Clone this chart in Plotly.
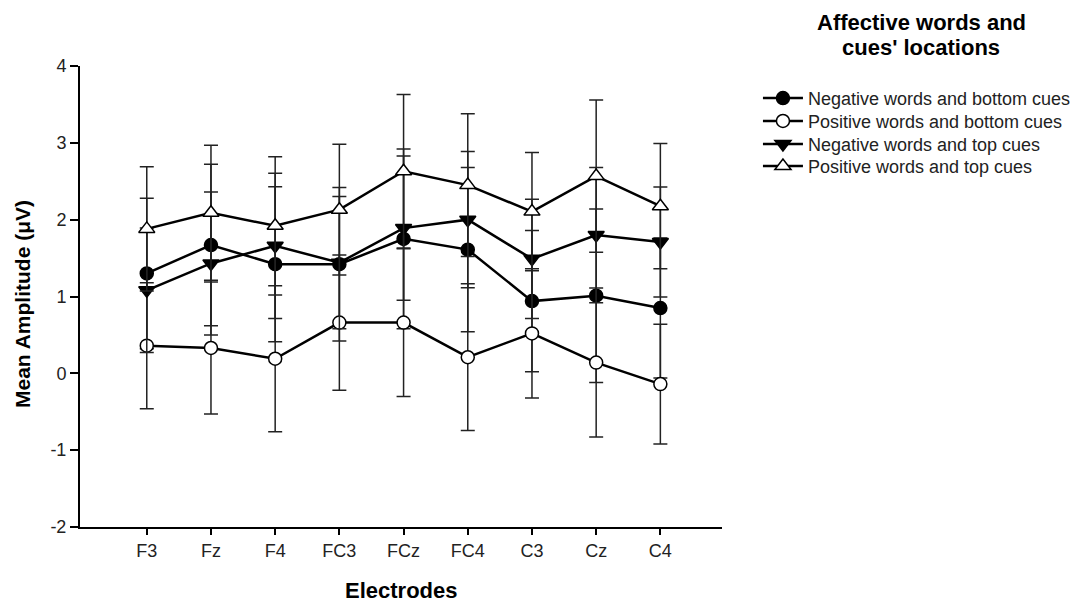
import plotly.graph_objects as go

electrodes = ["F3", "Fz", "F4", "FC3", "FCz", "FC4", "C3", "Cz", "C4"]

neg_bottom = [1.30, 1.67, 1.42, 1.42, 1.75, 1.61, 0.94, 1.01, 0.85]
neg_bottom_err = [0.98, 1.05, 1.01, 1.00, 1.17, 1.07, 0.92, 1.13, 0.91]

pos_bottom = [0.36, 0.33, 0.19, 0.66, 0.66, 0.21, 0.52, 0.14, -0.14]
pos_bottom_err = [0.82, 0.86, 0.95, 0.88, 0.96, 0.955, 0.84, 0.97, 0.78]

neg_top = [1.08, 1.43, 1.66, 1.44, 1.89, 2.00, 1.49, 1.80, 1.71]
neg_top_err = [0.81, 0.93, 0.945, 0.86, 0.94, 0.886, 0.777, 0.88, 0.716]

pos_top = [1.88, 2.09, 1.92, 2.13, 2.63, 2.45, 2.105, 2.567, 2.175]
pos_top_err = [0.81, 0.88, 0.90, 0.85, 1.00, 0.93, 0.77, 0.99, 0.815]

y_tick_values = [-2, -1, 0, 1, 2, 3, 4]
y_tick_labels = ["-2", "-1", "0", "1", "2", "3", "4"]

series = [
    ("Negative words and bottom cues", neg_bottom, neg_bottom_err, "circle", "black", 13),
    ("Positive words and bottom cues", pos_bottom, pos_bottom_err, "circle", "white", 13),
    ("Negative words and top cues", neg_top, neg_top_err, "triangle-down", "black", 14),
    ("Positive words and top cues", pos_top, pos_top_err, "triangle-up", "white", 14),
]

FONT = "Liberation Sans, Arial, sans-serif"
legend_names = ["legend", "legend2", "legend3", "legend4"]
legend_rows_y = [0.970, 0.9202, 0.8703, 0.8226]

fig = go.Figure()
for (name, vals, errs, sym, fill, sz), lg in zip(series, legend_names):
    fig.add_trace(go.Scatter(
        x=electrodes, y=vals, name=name, mode="lines+markers", legend=lg,
        line=dict(color="black", width=2.5),
        marker=dict(symbol=sym, size=sz, color=fill, line=dict(color="black", width=1.5)),
        error_y=dict(type="data", array=errs, visible=True, color="#222222",
                     thickness=1.5, width=7),
    ))

legend_layout = {}
for lg, ly in zip(legend_names, legend_rows_y):
    legend_layout[lg] = dict(x=1.056, xanchor="left", y=ly, yanchor="top",
                             font=dict(family=FONT, size=18, color="#222222"),
                             itemwidth=40, bgcolor="rgba(0,0,0,0)")

fig.update_layout(
    width=1070, height=595,
    paper_bgcolor="white", plot_bgcolor="white",
    margin=dict(l=72, r=356, t=58, b=76, autoexpand=False),
    font=dict(family=FONT, size=18, color="#222222"),
    showlegend=True,
    **legend_layout,
    xaxis=dict(type="category", range=[-1.04, 8.96], showline=True, linecolor="black",
               linewidth=2, ticks="outside", ticklen=6, tickwidth=1.5, tickcolor="black",
               showgrid=False, zeroline=False, tickfont=dict(size=18)),
    yaxis=dict(range=[-2, 4], tickmode="array", tickvals=y_tick_values, ticktext=y_tick_labels,
               showline=True, linecolor="black", linewidth=2,
               ticks="outside", ticklen=8, tickwidth=1.5, tickcolor="black",
               showgrid=False, zeroline=False, tickfont=dict(size=18)),
    annotations=[
        dict(text="<b>Mean Amplitude (\u03bcV)</b>", xref="paper", yref="paper",
             x=-0.0903, y=0.4837, textangle=-90, showarrow=False,
             font=dict(family=FONT, size=21, color="black"),
             xanchor="center", yanchor="middle"),
        dict(text="<b>Electrodes</b>", xref="paper", yref="paper",
             x=0.5, y=-0.1695, showarrow=False,
             font=dict(family=FONT, size=22, color="black"),
             xanchor="center", yanchor="bottom"),
        dict(text="<b>Affective words and</b>", xref="paper", yref="paper",
             x=1.31, y=1.0954, showarrow=False,
             font=dict(family=FONT, size=22, color="black"),
             xanchor="center", yanchor="middle"),
        dict(text="<b>cues' locations</b>", xref="paper", yref="paper",
             x=1.31, y=1.0412, showarrow=False,
             font=dict(family=FONT, size=22, color="black"),
             xanchor="center", yanchor="middle"),
    ],
)

fig.write_html("out.html")
